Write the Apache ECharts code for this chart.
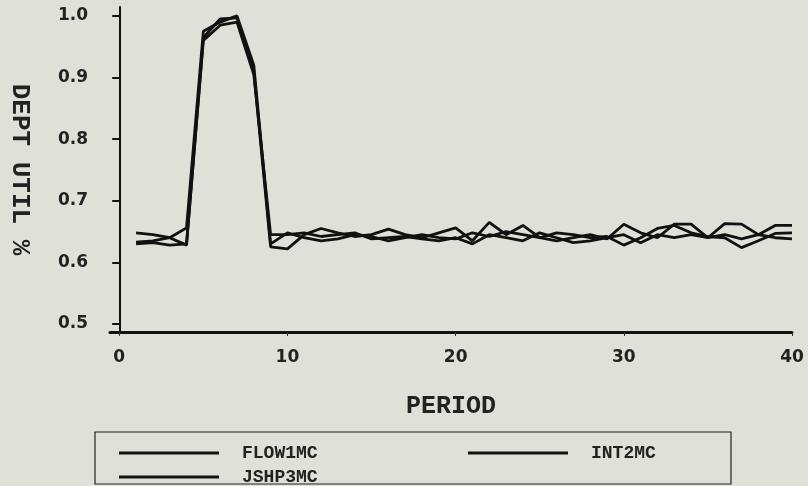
<!DOCTYPE html>
<html>
<head>
<meta charset="utf-8">
<script src="https://cdn.jsdelivr.net/npm/echarts@6/dist/echarts.min.js"></script>
<style>
html,body{margin:0;padding:0;background:#dfe0d8;}
#chart{width:808px;height:486px;}
</style>
</head>
<body>
<div id="chart"></div>
<script>
const periods = [1,2,3,4,5,6,7,8,9,10,11,12,13,14,15,16,17,18,19,20,21,22,23,24,25,26,27,28,29,30,31,32,33,34,35,36,37,38,39,40];
const flow1mc = [0.648,0.645,0.640,0.628,0.965,0.995,0.997,0.910,0.625,0.622,0.645,0.655,0.648,0.642,0.645,0.654,0.645,0.640,0.648,0.656,0.635,0.665,0.645,0.660,0.640,0.635,0.640,0.645,0.638,0.662,0.648,0.640,0.662,0.662,0.640,0.663,0.662,0.645,0.660,0.660];
const int2mc  = [0.633,0.635,0.640,0.656,0.975,0.990,1.000,0.920,0.630,0.648,0.640,0.635,0.638,0.645,0.642,0.635,0.640,0.645,0.640,0.638,0.648,0.642,0.650,0.645,0.640,0.648,0.645,0.640,0.642,0.628,0.640,0.655,0.660,0.648,0.642,0.640,0.624,0.635,0.647,0.648];
const jshp3mc = [0.630,0.632,0.628,0.630,0.960,0.985,0.990,0.905,0.645,0.645,0.648,0.642,0.645,0.648,0.638,0.640,0.642,0.638,0.635,0.640,0.630,0.645,0.640,0.635,0.648,0.640,0.632,0.635,0.640,0.645,0.632,0.645,0.640,0.645,0.640,0.645,0.638,0.645,0.640,0.638];
const seriesNames = ['FLOW1MC','INT2MC','JSHP3MC'];
const xTicks = [0,10,20,30,40];
const yTicks = [0.5,0.6,0.7,0.8,0.9,1.0];

const chart = echarts.init(document.getElementById('chart'));
const pair = arr => periods.map((p,i)=>[p,arr[i]]);
const lineSeries = (name, arr) => ({
  name, type:'line', data: pair(arr), symbol:'none', smooth:false,
  lineStyle:{color:'#111', width:2.8}, itemStyle:{color:'#111'}
});
chart.setOption({
  backgroundColor:'#dfe0d8',
  animation:false,
  grid:{left:110, right:16, top:7, bottom:154, containLabel:false, outerBoundsMode:'none'},
  xAxis:{
    type:'value', min:-0.55, max:40,
    name:'PERIOD', nameLocation:'middle', nameGap:62,
    nameTextStyle:{fontFamily:'Liberation Mono', fontWeight:'bold', fontSize:25, color:'#222'},
    axisLine:{show:true, lineStyle:{color:'#111', width:3}},
    axisTick:{show:true, length:4, customValues:xTicks, lineStyle:{color:'#333', width:1}},
    axisLabel:{customValues:xTicks, margin:17, fontFamily:'DejaVu Sans', fontWeight:'bold', fontSize:17, color:'#222'},
    splitLine:{show:false}
  },
  yAxis:{
    type:'value', min:0.487, max:1.0145,
    name:'DEPT UTIL %', nameLocation:'middle', nameRotate:-90, nameGap:77,
    nameTextStyle:{fontFamily:'Liberation Mono', fontWeight:'bold', fontSize:26, color:'#222'},
    axisLine:{show:true, lineStyle:{color:'#111', width:2}},
    axisTick:{show:true, length:7, customValues:yTicks, lineStyle:{color:'#111', width:2}},
    axisLabel:{customValues:yTicks, margin:22, fontFamily:'DejaVu Sans', fontWeight:'bold', fontSize:17, color:'#222',
      formatter: v => v.toFixed(1)},
    splitLine:{show:false}
  },
  legend:{
    data:seriesNames, left:119, top:444, padding:0, itemGap:6,
    itemWidth:100, itemHeight:3, icon:'rect', width:700,
    textStyle:{fontFamily:'Liberation Mono', fontWeight:'bold', fontSize:18, color:'#222',
      width:220, lineHeight:12, padding:[0,0,0,18]}
  },
  graphic:[{type:'rect', shape:{x:95, y:432, width:636, height:52}, style:{fill:'none', stroke:'#222', lineWidth:1.2}, silent:true}],
  series:[lineSeries(seriesNames[0], flow1mc), lineSeries(seriesNames[1], int2mc), lineSeries(seriesNames[2], jshp3mc)]
});
</script>
</body>
</html>
